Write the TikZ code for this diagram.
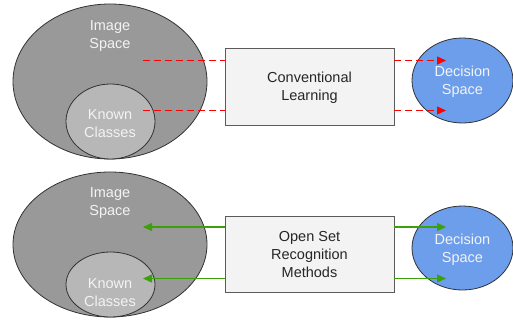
\documentclass[tikz,border=0pt]{standalone}
\usepackage{fontspec}
\setmainfont{Liberation Sans}
\usetikzlibrary{shapes.geometric, positioning, arrows.meta}
\definecolor{outerGray}{RGB}{153, 153, 153}
\definecolor{innerGray}{RGB}{183, 183, 183}
\definecolor{edgeColor}{RGB}{50, 50, 50}
\definecolor{boxFill}{RGB}{243, 243, 243}
\definecolor{decisionBlue}{RGB}{109, 158, 235}
\definecolor{labelWhite}{RGB}{243, 243, 243}
\definecolor{flowRed}{RGB}{255, 0, 0}
\definecolor{flowGreen}{RGB}{60, 160, 10}
\tikzset{
    space_outer/.style={
        ellipse,
        draw=edgeColor,
        line width=0.8pt,
        fill=outerGray,
        inner sep=0pt
    },
    space_inner/.style={
        space_outer,
        fill=innerGray
    },
    space_text/.style={
        align=center,
        text=labelWhite,
        font=\fontsize{14.5}{18}\selectfont
    },
    method_box/.style={
        rectangle,
        draw=edgeColor!80,
        line width=0.8pt,
        fill=boxFill,
        align=center,
        text=black!85,
        text depth=0pt,
        font=\fontsize{14.5}{18}\selectfont,
        minimum width=169pt
    },
    decision_node/.style={
        ellipse,
        draw=edgeColor,
        line width=0.8pt,
        fill=decisionBlue,
        text=labelWhite,
        align=center,
        text depth=0pt,
        inner sep=0pt,
        minimum width=101pt,
        font=\fontsize{14.5}{18}\selectfont
    },
    red_flow/.style={
        draw=flowRed,
        line width=1.3pt,
        dash pattern=on 7pt off 4pt
    },
    red_arrow/.style={
        red_flow,
        -{Triangle[length=9pt, width=8pt]}
    },
    green_arrow/.style={
        draw=flowGreen,
        line width=1.3pt,
        -{Triangle[length=9pt, width=8pt]}
    }
}
\begin{document}
\begin{tikzpicture}[x=1pt, y=-1pt]
    \useasboundingbox (0,0) rectangle (513,327);

    % conventional learning
    \node[space_outer, minimum width=194pt, minimum height=155pt] (img1) at (110,81.5) {};
    \node[space_inner, minimum width=89pt, minimum height=75pt] (known1) at (110.5,121.5) {};
    \node[space_text] (img1_lbl) at (110,36) {Image\\Space};
    \node[space_text] (known1_lbl) at (110,124) {Known\\Classes};
    \node[decision_node, minimum height=85pt] (dec1) at (462.5,80.5) {Decision\\Space};
    \node[method_box, minimum height=77pt] (conv) at (309.5,86.5) {Conventional\\Learning};

    \coordinate (img1_a) at (143,60.5);
    \coordinate (img1_b) at (143,110.5);
    \coordinate (dec1_a) at (446,60.5);
    \coordinate (dec1_b) at (446,110.5);

    \draw[red_flow] (img1_a) -- (img1_a -| conv.west);
    \draw[red_flow] (img1_b) -- (img1_b -| conv.west);
    \draw[red_arrow] (dec1_a -| conv.east) -- (dec1_a);
    \draw[red_arrow] (dec1_b -| conv.east) -- (dec1_b);

    % open set recognition
    \node[space_outer, minimum width=194pt, minimum height=145pt] (img2) at (110,244.5) {};
    \node[space_inner, minimum width=89pt, minimum height=65pt] (known2) at (110.5,284.5) {};
    \node[space_text] (img2_lbl) at (110,203.5) {Image\\Space};
    \node[space_text] (known2_lbl) at (110,292.5) {Known\\Classes};
    \node[decision_node, minimum height=84pt] (dec2) at (462.5,248) {Decision\\Space};
    \node[method_box, minimum height=76pt] (osr) at (309.5,254) {Open Set\\Recognition\\Methods};

    \coordinate (img2_a) at (143,227);
    \coordinate (img2_b) at (143,278.5);
    \coordinate (dec2_a) at (446,227);
    \coordinate (dec2_b) at (446,278.5);

    \draw[green_arrow] (img2_a -| osr.west) -- (img2_a);
    \draw[green_arrow] (img2_b -| osr.west) -- (img2_b);
    \draw[green_arrow] (dec2_a -| osr.east) -- (dec2_a);
    \draw[green_arrow] (dec2_b -| osr.east) -- (dec2_b);
\end{tikzpicture}
\end{document}
